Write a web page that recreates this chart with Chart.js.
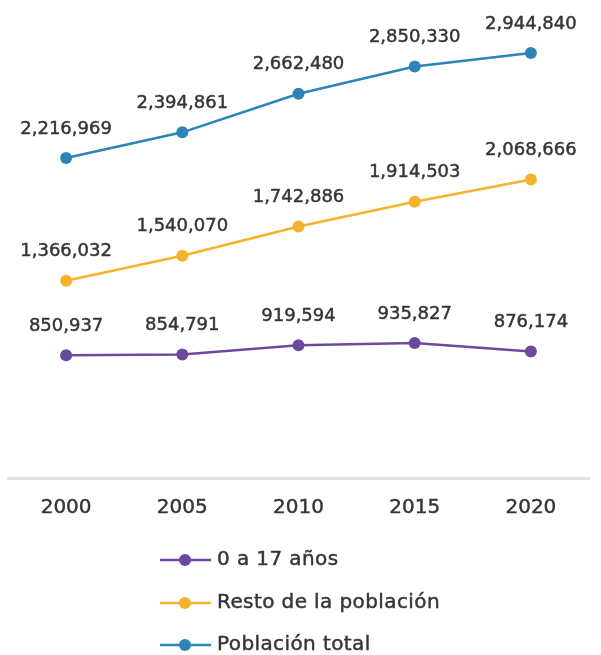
<!DOCTYPE html>
<html>
<head>
<meta charset="utf-8">
<script src="https://cdn.jsdelivr.net/npm/chart.js@4/dist/chart.umd.min.js"></script>
<style>
html,body{margin:0;padding:0;background:#fff;}
#wrap{width:601px;height:655px;position:relative;}
</style>
</head>
<body>
<div id="wrap"><canvas id="c" width="601" height="655"></canvas></div>
<script>
const years = ['2000','2005','2010','2015','2020'];
const ninos = [850937, 854791, 919594, 935827, 876174];
const resto = [1366032, 1540070, 1742886, 1914503, 2068666];
const total = [2216969, 2394861, 2662480, 2850330, 2944840];
const seriesNames = ['0 a 17 años','Resto de la población','Población total'];
const colors = ['#6b4a9e','#f6b12d','#2d84b8'];

const FONT = '"DejaVu Sans", sans-serif';
const TEXT = '#353535';
const STROKE_W = 0.45;

const fmt = v => v.toLocaleString('en-US');

const labelPlugin = {
  id:'pointLabels',
  afterDatasetsDraw(chart){
    const ctx = chart.ctx;
    ctx.save();
    ctx.font = '18px ' + FONT;
    ctx.fillStyle = TEXT;
    ctx.strokeStyle = TEXT;
    ctx.lineWidth = STROKE_W;
    ctx.textAlign = 'center';
    ctx.textBaseline = 'middle';
    chart.data.datasets.forEach((ds,i)=>{
      const meta = chart.getDatasetMeta(i);
      meta.data.forEach((pt,j)=>{
        const t = fmt(ds.data[j]);
        ctx.fillText(t, pt.x, pt.y - 29);
        ctx.strokeText(t, pt.x, pt.y - 29);
      });
    });
    ctx.restore();
  }
};

const legendPlugin = {
  id:'vertLegend',
  afterDraw(chart){
    const ctx = chart.ctx;
    const ys = [560, 603, 645];
    ctx.save();
    chart.data.datasets.forEach((ds,i)=>{
      const y = ys[i];
      ctx.strokeStyle = ds.borderColor;
      ctx.lineWidth = 2.5;
      ctx.beginPath(); ctx.moveTo(160,y); ctx.lineTo(211,y); ctx.stroke();
      ctx.fillStyle = ds.borderColor;
      ctx.beginPath(); ctx.arc(185,y,6,0,Math.PI*2); ctx.fill();
      ctx.font = '20px ' + FONT;
      try { ctx.letterSpacing = '0.4px'; } catch(e) {}
      ctx.fillStyle = TEXT;
      ctx.strokeStyle = TEXT;
      ctx.lineWidth = STROKE_W;
      ctx.textAlign = 'left';
      ctx.textBaseline = 'middle';
      ctx.fillText(ds.label, 217, y);
      ctx.strokeText(ds.label, 217, y);
    });
    ctx.restore();
  }
};

const mk = (label, data, color) => ({
  label, data, borderColor: color, backgroundColor: color,
  borderWidth: 2.5, pointRadius: 6, pointHoverRadius: 6,
  pointBorderWidth: 0, tension: 0, fill: false
});

new Chart(document.getElementById('c'), {
  type:'line',
  data:{
    labels: years,
    datasets:[
      mk(seriesNames[0], ninos, colors[0]),
      mk(seriesNames[1], resto, colors[1]),
      mk(seriesNames[2], total, colors[2])
    ]
  },
  options:{
    responsive:false,
    animation:false,
    layout:{padding:{left:8,right:12,top:0,bottom:117}},
    plugins:{legend:{display:false},tooltip:{enabled:false}},
    scales:{
      x:{
        offset:true,
        grid:{display:false, drawTicks:false},
        border:{display:true,color:'#e4e4e4',width:3},
        ticks:{color:TEXT,font:{family:FONT,size:20},padding:18,
               textStrokeColor:TEXT,textStrokeWidth:STROKE_W},
        afterFit(s){ s.height = 60; }
      },
      y:{display:false,min:0,max:3270000}
    }
  },
  plugins:[labelPlugin, legendPlugin]
});
</script>
</body>
</html>
